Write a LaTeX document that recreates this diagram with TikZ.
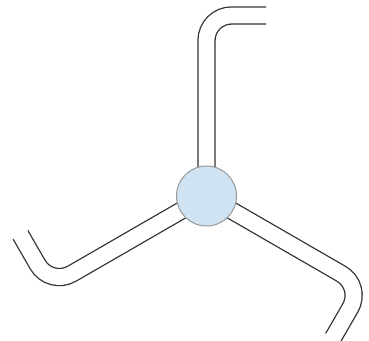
\documentclass[tikz,border=0pt]{standalone}
\usetikzlibrary{calc,backgrounds}
\definecolor{hubfill}{HTML}{CFE3F2}
\definecolor{hubline}{HTML}{999999}
\definecolor{pipeline}{HTML}{333333}
\begin{document}
\begin{tikzpicture}[x=1pt,y=1pt,
  hubnode/.style={circle, fill=hubfill, draw=hubline, line width=1pt, minimum size=60pt, inner sep=0pt},
  pipe/.style={draw=pipeline, line width=1.3pt, double=white, double distance=15.7pt, rounded corners=25pt},
  pipeopen/.style={draw=white, line width=15.7pt}]
\useasboundingbox (0,0) rectangle (369,340);
\node[hubnode] (hub) at (206.5,144) {};
\coordinate (c1) at ($(hub.center)+(90:180.5pt)$);
\coordinate (e1) at ($(c1)+(0:59.5pt)$);
\coordinate (c2) at ($(hub.center)+(210:180.5pt)$);
\coordinate (e2) at ($(c2)+(120:59.5pt)$);
\coordinate (c3) at ($(hub.center)+(-30:180.5pt)$);
\coordinate (e3) at ($(c3)+(240:59.5pt)$);
\begin{scope}[on background layer]
  \draw[pipe] (hub.center) -- (c1) -- (e1);
  \draw[pipe] (hub.center) -- (c2) -- (e2);
  \draw[pipe] (hub.center) -- (c3) -- (e3);
  \draw[pipeopen] ($(e1)!1pt!(c1)$) -- ($(e1)!-2pt!(c1)$);
  \draw[pipeopen] ($(e2)!1pt!(c2)$) -- ($(e2)!-2pt!(c2)$);
  \draw[pipeopen] ($(e3)!1pt!(c3)$) -- ($(e3)!-2pt!(c3)$);
\end{scope}
\end{tikzpicture}
\end{document}
